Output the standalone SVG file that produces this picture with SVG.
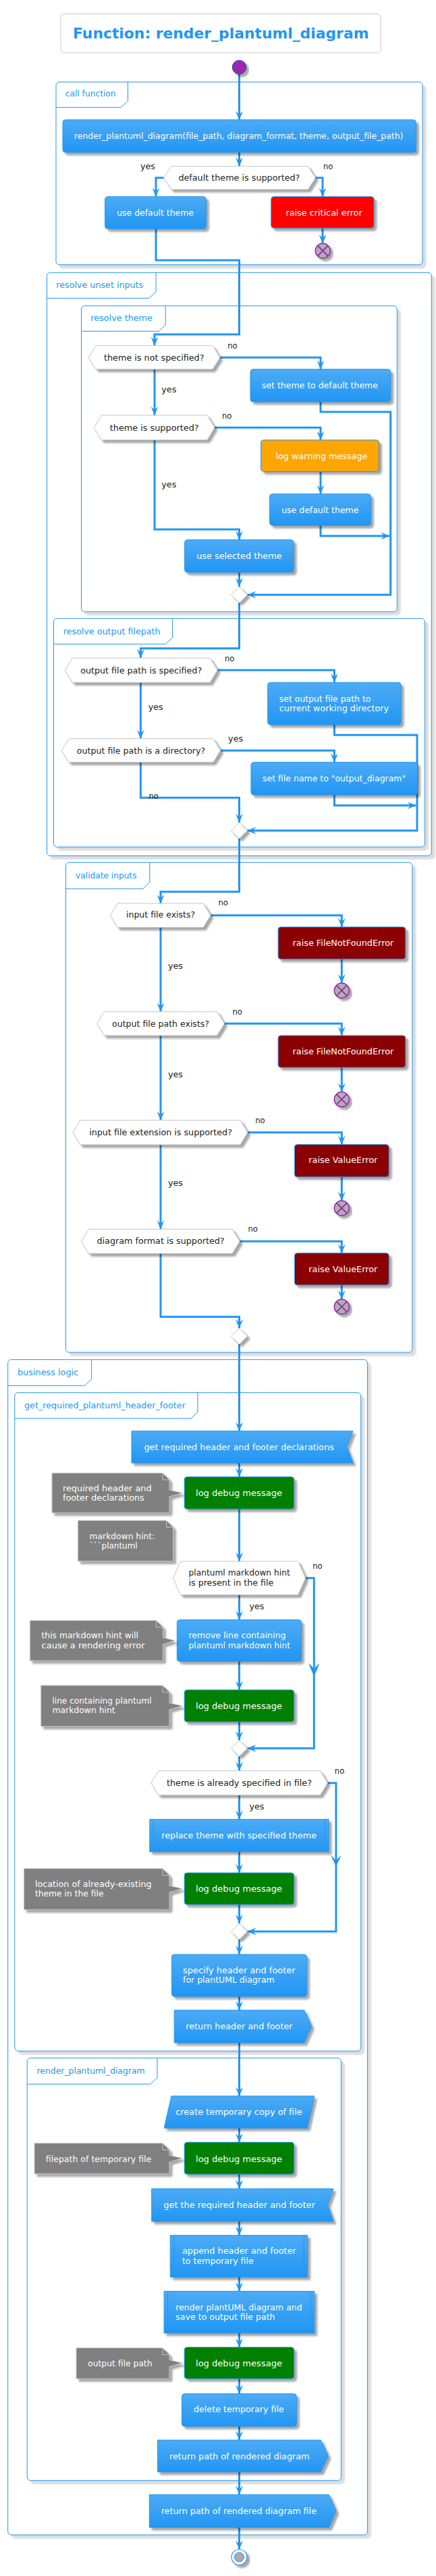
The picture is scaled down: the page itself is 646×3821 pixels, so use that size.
<svg xmlns="http://www.w3.org/2000/svg" width="646" height="3821" viewBox="0 0 646 3821">
<style>
.t{font-family:"DejaVu Sans","Liberation Sans",sans-serif;font-size:13px}
.w{fill:#ffffff}
.k{fill:#222222}
.g{fill:#2196F3}
.ln{fill:none;stroke:#2196F3;stroke-width:3;marker-end:url(#ar)}
.lnn{fill:none;stroke:#2196F3;stroke-width:3}
.grp{fill:#ffffff;stroke:#2196F3;stroke-width:1;filter:url(#gsh)}
.tab{fill:none;stroke:#2196F3;stroke-width:1}
.act{fill:url(#bg);stroke:#2196F3;stroke-width:1;filter:url(#sh)}
.sub{fill:none;stroke:#2196F3;stroke-width:1}
.dec{fill:#ffffff;stroke:#c4c4c4;stroke-width:1;filter:url(#sh)}
.note{fill:#808080;stroke:#c8c8c8;stroke-width:1;filter:url(#sh)}
.fold{fill:none;stroke:#c8c8c8;stroke-width:1}
.stop{fill:#b0b0b0;stroke:#9C27B0;stroke-width:1.5;filter:url(#sh)}
.x{stroke:#9C27B0;stroke-width:1.8}
.ah{fill:#2196F3}
</style>
<defs>
<linearGradient id="bg" x1="0" y1="0" x2="0" y2="1">
<stop offset="0" stop-color="#4DABF5"/>
<stop offset="1" stop-color="#2196F3"/>
</linearGradient>
<filter id="sh" x="-10%" y="-20%" width="130%" height="170%" color-interpolation-filters="sRGB">
<feGaussianBlur in="SourceAlpha" stdDeviation="1.5"/>
<feOffset dx="4" dy="4"/>
<feComponentTransfer><feFuncA type="linear" slope="0.35"/></feComponentTransfer>
<feMerge><feMergeNode/><feMergeNode in="SourceGraphic"/></feMerge>
</filter>
<filter id="gsh" x="-5%" y="-5%" width="115%" height="115%" color-interpolation-filters="sRGB">
<feGaussianBlur in="SourceAlpha" stdDeviation="1"/>
<feOffset dx="5" dy="5"/>
<feComponentTransfer><feFuncA type="linear" slope="0.14"/></feComponentTransfer>
<feMerge><feMergeNode/><feMergeNode in="SourceGraphic"/></feMerge>
</filter>
<marker id="ar" viewBox="0 0 13 12" refX="13" refY="6" markerWidth="13" markerHeight="12" markerUnits="userSpaceOnUse" orient="auto">
<path d="M0,0.5 L13,6 L0,11.5 L5,6 Z" fill="#2196F3"/>
</marker>
</defs>
<rect width="646" height="3821" fill="#ffffff"/>

<g id="title">
<rect x="90" y="20.7" width="474" height="57.6" rx="5" fill="#ffffff" stroke="#c8c8c8" stroke-width="1"/>
<text class="g" x="108" y="57.3" textLength="438.4" lengthAdjust="spacingAndGlyphs" style="font-family:'DejaVu Sans','Liberation Sans',sans-serif;font-size:21.5px;font-weight:bold">Function: render_plantuml_diagram</text>
</g>

<g id="grp-call-function">
<rect class="grp" x="83" y="121.7" width="543" height="271" rx="5"/>
<path class="tab" d="M83,159.3 H179.5 L189.5,149.8 V121.7"/>
<text class="t g" x="96.7" y="143.3" textLength="74.9" lengthAdjust="spacingAndGlyphs">call function</text>
</g>
<g id="grp-resolve-unset-inputs">
<rect class="grp" x="69.5" y="404.3" width="569.8" height="865" rx="5"/>
<path class="tab" d="M69.5,442.3 H221 L231,432.8 V404.3"/>
<text class="t g" x="83.3" y="427.3" textLength="128.9" lengthAdjust="spacingAndGlyphs">resolve unset inputs</text>
</g>
<g id="grp-resolve-theme">
<rect class="grp" x="120.5" y="453.7" width="467.8" height="453.6" rx="5"/>
<path class="tab" d="M120.5,491.3 H235.2 L245.2,481.8 V453.7"/>
<text class="t g" x="134.3" y="476" textLength="91.6" lengthAdjust="spacingAndGlyphs">resolve theme</text>
</g>
<g id="grp-resolve-output-filepath">
<rect class="grp" x="79.5" y="917.3" width="549.8" height="339" rx="5"/>
<path class="tab" d="M79.5,955.3 H245.6 L255.6,945.8 V917.3"/>
<text class="t g" x="93.7" y="940.7" textLength="143.9" lengthAdjust="spacingAndGlyphs">resolve output filepath</text>
</g>
<g id="grp-validate-inputs">
<rect class="grp" x="97.5" y="1279.3" width="513.4" height="726.7" rx="5"/>
<path class="tab" d="M97.5,1318.3 H211.8 L221.8,1308.8 V1279.3"/>
<text class="t g" x="112.1" y="1302.7" textLength="90.4" lengthAdjust="spacingAndGlyphs">validate inputs</text>
</g>
<g id="grp-business-logic">
<rect class="grp" x="11.7" y="2016.7" width="532.7" height="1743.3" rx="5"/>
<path class="tab" d="M11.7,2055.3 H125.6 L135.6,2045.8 V2016.7"/>
<text class="t g" x="25.9" y="2040" textLength="90.4" lengthAdjust="spacingAndGlyphs">business logic</text>
</g>
<g id="grp-get-required-header-footer">
<rect class="grp" x="21.8" y="2065.7" width="512.9" height="976.6" rx="5"/>
<path class="tab" d="M21.8,2104 H282.9 L292.9,2094.5 V2065.7"/>
<text class="t g" x="36" y="2089.3" textLength="238.9" lengthAdjust="spacingAndGlyphs">get_required_plantuml_header_footer</text>
</g>
<g id="grp-render-plantuml-diagram">
<rect class="grp" x="40.2" y="3052.7" width="465.2" height="626.6" rx="5"/>
<path class="tab" d="M40.2,3091.3 H223 L233,3081.8 V3052.7"/>
<text class="t g" x="54.4" y="3076" textLength="160.3" lengthAdjust="spacingAndGlyphs">render_plantuml_diagram</text>
</g>

<g id="connectors">
<path class="ln" d="M354.5,110 V177.7"/>
<path class="ln" d="M354.5,226 V246.7"/>
<path class="ln" d="M242.7,263.8 H231 V291.7"/>
<path class="ln" d="M467.4,263.8 H478 V291.7"/>
<path class="ln" d="M478,338.3 V361"/>
<path class="ln" d="M231,339.3 V386 H354.5 V496 H229 V512.7"/>
<path class="ln" d="M326,530.2 H475 V547.7"/>
<path class="ln" d="M229,547.7 V616"/>
<path class="ln" d="M475,596 V611 H578.7 V882.3 H366.5"/>
<path class="ln" d="M318,634.3 H475 V652.7"/>
<path class="ln" d="M475,699.3 V732.7"/>
<path class="ln" d="M475,779.3 V795 H577.2"/>
<path class="ln" d="M229,652.7 V785.3 H354.5 V800.7"/>
<path class="ln" d="M354.5,849 V870.3"/>
<path class="ln" d="M354.5,894.3 V961.7 H208.4 V976"/>
<path class="ln" d="M322.2,994.1 H495.4 V1012.3"/>
<path class="ln" d="M208.4,1012.3 V1095.7"/>
<path class="ln" d="M495.4,1075 V1090.3 H618 V1232 H366.5"/>
<path class="ln" d="M326.8,1113.2 H495.4 V1130.7"/>
<path class="ln" d="M495.4,1179 V1194.7 H616.5"/>
<path class="ln" d="M208.4,1130.7 V1183.3 H354.5 V1220"/>
<path class="ln" d="M354.5,1244 V1322.7 H238 V1340"/>
<path class="ln" d="M312.1,1357.8 H506.3 V1375"/>
<path class="ln" d="M506.3,1422.7 V1458.3"/>
<path class="ln" d="M238,1375.7 V1500.7"/>
<path class="ln" d="M332.6,1518.3 H506.3 V1536"/>
<path class="ln" d="M506.3,1583.3 V1619.7"/>
<path class="ln" d="M238,1536 V1661.7"/>
<path class="ln" d="M367,1679.8 H506.3 V1697.7"/>
<path class="ln" d="M506.3,1745.7 V1781"/>
<path class="ln" d="M238,1698 V1823.3"/>
<path class="ln" d="M355.2,1841.3 H506.3 V1858.7"/>
<path class="ln" d="M506.3,1906 V1927.3"/>
<path class="ln" d="M238,1859.3 V1953.3 H354.5 V1970"/>
<path class="ln" d="M354.5,1994 V2122.7"/>
<path class="ln" d="M354.5,2170 V2190.7"/>
<path class="ln" d="M354.5,2238.3 V2316"/>
<path class="ln" d="M452.7,2340.8 H465.3 V2593.3 H366.5"/>
<path class="ln" d="M354.5,2365.7 V2402.7"/>
<path class="ln" d="M354.5,2464.3 V2506.7"/>
<path class="ln" d="M354.5,2554 V2581.3"/>
<path class="ln" d="M354.5,2605.3 V2626.7"/>
<path class="ln" d="M485.4,2644.7 H497.9 V2865 H366.5"/>
<path class="ln" d="M354.5,2662.7 V2698.7"/>
<path class="ln" d="M354.5,2746.7 V2778"/>
<path class="ln" d="M354.5,2825 V2853"/>
<path class="ln" d="M354.5,2877 V2899"/>
<path class="ln" d="M354.5,2961.3 V2981.7"/>
<path class="ln" d="M354.5,3030 V3109"/>
<path class="ln" d="M354.5,3156.7 V3177.7"/>
<path class="ln" d="M354.5,3225 V3246.7"/>
<path class="ln" d="M354.5,3295 V3315.7"/>
<path class="ln" d="M354.5,3377.7 V3398.7"/>
<path class="ln" d="M354.5,3460.7 V3481.7"/>
<path class="ln" d="M354.5,3528.3 V3550.7"/>
<path class="ln" d="M354.5,3599 V3619.3"/>
<path class="ln" d="M354.5,3666.7 V3700.3"/>
<path class="ln" d="M354.5,3749 V3781.5"/>
<polygon class="ah" points="465.3,2487 457,2467 465.3,2475 473.6,2467"/>
<polygon class="ah" points="497.9,2768.3 489.9,2751.7 497.9,2759.5 505.9,2751.7"/>
<text class="t k" x="208" y="250.7" textLength="22" lengthAdjust="spacingAndGlyphs">yes</text>
<text class="t k" x="479" y="250.7" textLength="14.5" lengthAdjust="spacingAndGlyphs">no</text>
<text class="t k" x="337.2" y="516.7" textLength="14.5" lengthAdjust="spacingAndGlyphs">no</text>
<text class="t k" x="239.3" y="581.7" textLength="22" lengthAdjust="spacingAndGlyphs">yes</text>
<text class="t k" x="328.9" y="621" textLength="14.5" lengthAdjust="spacingAndGlyphs">no</text>
<text class="t k" x="239.3" y="723.3" textLength="22" lengthAdjust="spacingAndGlyphs">yes</text>
<text class="t k" x="333" y="980.7" textLength="14.5" lengthAdjust="spacingAndGlyphs">no</text>
<text class="t k" x="219.7" y="1053.3" textLength="22" lengthAdjust="spacingAndGlyphs">yes</text>
<text class="t k" x="338.1" y="1100" textLength="22" lengthAdjust="spacingAndGlyphs">yes</text>
<text class="t k" x="220.5" y="1185.3" textLength="14.5" lengthAdjust="spacingAndGlyphs">no</text>
<text class="t k" x="323.4" y="1343.3" textLength="14.5" lengthAdjust="spacingAndGlyphs">no</text>
<text class="t k" x="249" y="1436.7" textLength="22" lengthAdjust="spacingAndGlyphs">yes</text>
<text class="t k" x="344.4" y="1504.7" textLength="14.5" lengthAdjust="spacingAndGlyphs">no</text>
<text class="t k" x="249" y="1597.7" textLength="22" lengthAdjust="spacingAndGlyphs">yes</text>
<text class="t k" x="378.2" y="1666" textLength="14.5" lengthAdjust="spacingAndGlyphs">no</text>
<text class="t k" x="249" y="1759.3" textLength="22" lengthAdjust="spacingAndGlyphs">yes</text>
<text class="t k" x="367.4" y="1827.3" textLength="14.5" lengthAdjust="spacingAndGlyphs">no</text>
<text class="t k" x="463.2" y="2326.7" textLength="14.5" lengthAdjust="spacingAndGlyphs">no</text>
<text class="t k" x="369.5" y="2387.3" textLength="22" lengthAdjust="spacingAndGlyphs">yes</text>
<text class="t k" x="495.8" y="2631" textLength="14.5" lengthAdjust="spacingAndGlyphs">no</text>
<text class="t k" x="369.5" y="2684" textLength="22" lengthAdjust="spacingAndGlyphs">yes</text>
</g>

<g id="start">
<circle cx="354.5" cy="99.7" r="10.3" fill="#9C27B0" stroke="#2a4aa8" stroke-width="1" filter="url(#sh)"/>
</g>
<g id="a-call">
<rect class="act" x="93" y="177.7" width="523.3" height="48.3" rx="4"/>
<text class="t w" x="110" y="206" textLength="487.4" lengthAdjust="spacingAndGlyphs">render_plantuml_diagram(file_path, diagram_format, theme, output_file_path)</text>
</g>
<g id="d-default-theme">
<polygon class="dec" points="253.7,246.7 456.4,246.7 467.4,263.8 456.4,281 253.7,281 242.7,263.8"/>
<text class="t k" x="264.4" y="268.3" textLength="180" lengthAdjust="spacingAndGlyphs">default theme is supported?</text>
</g>
<g id="a-use-default-1">
<rect class="act" x="155.6" y="291.7" width="149.8" height="47.6" rx="4"/>
<text class="t w" x="173.2" y="320" textLength="113.8" lengthAdjust="spacingAndGlyphs">use default theme</text>
</g>
<g id="a-raise-critical">
<rect x="401.7" y="291.7" width="152.3" height="46.6" rx="4" fill="#FF0000" stroke="#2196F3" stroke-width="1" filter="url(#sh)"/>
<text class="t w" x="423.4" y="320" textLength="113.4" lengthAdjust="spacingAndGlyphs">raise critical error</text>
</g>
<g id="stop-1">
<circle class="stop" cx="478.3" cy="372" r="11"/>
<path class="x" d="M470.8,364.5 L485.8,379.5 M485.8,364.5 L470.8,379.5"/>
</g>
<g id="d-theme-not-specified">
<polygon class="dec" points="142,512.7 315,512.7 326,530.2 315,547.7 142,547.7 131,530.2"/>
<text class="t k" x="154" y="535" textLength="148.5" lengthAdjust="spacingAndGlyphs">theme is not specified?</text>
</g>
<g id="a-set-theme-default">
<rect class="act" x="371" y="547.7" width="207.7" height="48.3" rx="4"/>
<text class="t w" x="387.9" y="576" textLength="172" lengthAdjust="spacingAndGlyphs">set theme to default theme</text>
</g>
<g id="d-theme-supported">
<polygon class="dec" points="150.3,616 307,616 318,634.3 307,652.7 150.3,652.7 139.3,634.3"/>
<text class="t k" x="162.8" y="639.3" textLength="131.8" lengthAdjust="spacingAndGlyphs">theme is supported?</text>
</g>
<g id="a-log-warning">
<rect x="386.6" y="652.7" width="174.9" height="46.6" rx="4" fill="#FFA500" stroke="#2196F3" stroke-width="1" filter="url(#sh)"/>
<text class="t w" x="408.4" y="680.7" textLength="136" lengthAdjust="spacingAndGlyphs">log warning message</text>
</g>
<g id="a-use-default-2">
<rect class="act" x="399.6" y="732.7" width="149.8" height="46.6" rx="4"/>
<text class="t w" x="417.2" y="760.7" textLength="114.2" lengthAdjust="spacingAndGlyphs">use default theme</text>
</g>
<g id="a-use-selected">
<rect class="act" x="273.6" y="800.7" width="161.5" height="48.3" rx="4"/>
<text class="t w" x="291.2" y="829.3" textLength="126.4" lengthAdjust="spacingAndGlyphs">use selected theme</text>
</g>
<g id="merge-1">
<polygon class="dec" points="354.5,870.3 366.5,882.3 354.5,894.3 342.5,882.3"/>
</g>
<g id="d-output-specified">
<polygon class="dec" points="107.2,976 311.2,976 322.2,994.1 311.2,1012.3 107.2,1012.3 96.2,994.1"/>
<text class="t k" x="119.2" y="999" textLength="180" lengthAdjust="spacingAndGlyphs">output file path is specified?</text>
</g>
<g id="a-set-output-cwd">
<rect class="act" x="396.7" y="1012.3" width="197.4" height="62.7" rx="4"/>
<text class="t w" x="413.8" y="1040.7" textLength="135.6" lengthAdjust="spacingAndGlyphs">set output file path to</text>
<text class="t w" x="413.8" y="1055" textLength="162.3" lengthAdjust="spacingAndGlyphs">current working directory</text>
</g>
<g id="d-output-directory">
<polygon class="dec" points="102.2,1095.7 315.8,1095.7 326.8,1113.2 315.8,1130.7 102.2,1130.7 91.2,1113.2"/>
<text class="t k" x="113.8" y="1118" textLength="190.4" lengthAdjust="spacingAndGlyphs">output file path is a directory?</text>
</g>
<g id="a-set-file-name">
<rect class="act" x="372" y="1130.7" width="246.4" height="48.3" rx="4"/>
<text class="t w" x="389.1" y="1159" textLength="212.1" lengthAdjust="spacingAndGlyphs">set file name to "output_diagram"</text>
</g>
<g id="merge-2">
<polygon class="dec" points="354.5,1220 366.5,1232 354.5,1244 342.5,1232"/>
</g>
<g id="d-input-exists">
<polygon class="dec" points="174.2,1340 301.1,1340 312.1,1357.8 301.1,1375.7 174.2,1375.7 163.2,1357.8"/>
<text class="t k" x="187" y="1361" textLength="102.1" lengthAdjust="spacingAndGlyphs">input file exists?</text>
</g>
<g id="a-raise-fnf-1">
<rect x="412.1" y="1375" width="188.7" height="47.7" rx="4" fill="#8B0000" stroke="#2196F3" stroke-width="1" filter="url(#sh)"/>
<text class="t w" x="433.5" y="1403.3" textLength="149.8" lengthAdjust="spacingAndGlyphs">raise FileNotFoundError</text>
</g>
<g id="stop-2">
<circle class="stop" cx="506.3" cy="1469.3" r="11"/>
<path class="x" d="M498.8,1461.8 L513.8,1476.8 M513.8,1461.8 L498.8,1476.8"/>
</g>
<g id="d-output-exists">
<polygon class="dec" points="154.5,1500.7 321.6,1500.7 332.6,1518.3 321.6,1536 154.5,1536 143.5,1518.3"/>
<text class="t k" x="166.1" y="1522.7" textLength="143.9" lengthAdjust="spacingAndGlyphs">output file path exists?</text>
</g>
<g id="a-raise-fnf-2">
<rect x="412.1" y="1536" width="188.7" height="47.3" rx="4" fill="#8B0000" stroke="#2196F3" stroke-width="1" filter="url(#sh)"/>
<text class="t w" x="433.5" y="1564" textLength="149.8" lengthAdjust="spacingAndGlyphs">raise FileNotFoundError</text>
</g>
<g id="stop-3">
<circle class="stop" cx="506.3" cy="1630.7" r="11"/>
<path class="x" d="M498.8,1623.2 L513.8,1638.2 M513.8,1623.2 L498.8,1638.2"/>
</g>
<g id="d-extension-supported">
<polygon class="dec" points="119,1661.7 356,1661.7 367,1679.8 356,1698 119,1698 108,1679.8"/>
<text class="t k" x="132.2" y="1684" textLength="211.7" lengthAdjust="spacingAndGlyphs">input file extension is supported?</text>
</g>
<g id="a-raise-value-1">
<rect x="436.4" y="1697.7" width="139.8" height="48" rx="4" fill="#8B0000" stroke="#2196F3" stroke-width="1" filter="url(#sh)"/>
<text class="t w" x="457.3" y="1725.3" textLength="102.1" lengthAdjust="spacingAndGlyphs">raise ValueError</text>
</g>
<g id="stop-4">
<circle class="stop" cx="506.3" cy="1792" r="11"/>
<path class="x" d="M498.8,1784.5 L513.8,1799.5 M513.8,1784.5 L498.8,1799.5"/>
</g>
<g id="d-format-supported">
<polygon class="dec" points="131.5,1823.3 344.2,1823.3 355.2,1841.3 344.2,1859.3 131.5,1859.3 120.5,1841.3"/>
<text class="t k" x="143.5" y="1845" textLength="189.1" lengthAdjust="spacingAndGlyphs">diagram format is supported?</text>
</g>
<g id="a-raise-value-2">
<rect x="436.4" y="1858.7" width="139.8" height="47.3" rx="4" fill="#8B0000" stroke="#2196F3" stroke-width="1" filter="url(#sh)"/>
<text class="t w" x="457.3" y="1886.7" textLength="102.1" lengthAdjust="spacingAndGlyphs">raise ValueError</text>
</g>
<g id="stop-5">
<circle class="stop" cx="506.3" cy="1938.3" r="11"/>
<path class="x" d="M498.8,1930.8 L513.8,1945.8 M513.8,1930.8 L498.8,1945.8"/>
</g>
<g id="merge-3">
<polygon class="dec" points="354.5,1970 366.5,1982 354.5,1994 342.5,1982"/>
</g>
<g id="a-get-required-declarations">
<path class="act" d="M195,2122.7 H523 L513.8,2146.3 L523,2170 H195 Z"/>
<text class="t w" x="213.4" y="2150.7" textLength="281.6" lengthAdjust="spacingAndGlyphs">get required header and footer declarations</text>
</g>
<g id="a-log-debug-1">
<rect x="273.2" y="2190.7" width="162.4" height="47.6" rx="4" fill="#008000" stroke="#2196F3" stroke-width="1" filter="url(#sh)"/>
<text class="t w" x="290" y="2219" textLength="128" lengthAdjust="spacingAndGlyphs">log debug message</text>
</g>
<g id="note-1">
<path class="note" d="M77,2185 H241 L251,2195 V2210 L270,2214.5 L251,2220 V2244 H77 Z"/>
<path class="fold" d="M241,2185 V2195 H251"/>
<text class="t w" x="92.9" y="2211.7" textLength="131.8" lengthAdjust="spacingAndGlyphs">required header and</text>
<text class="t w" x="92.9" y="2226" textLength="120.9" lengthAdjust="spacingAndGlyphs">footer declarations</text>
</g>
<g id="note-2">
<path class="note" d="M115.5,2255.3 H246.5 L256.5,2265.3 V2315.7 H115.5 Z"/>
<path class="fold" d="M246.5,2255.3 V2265.3 H256.5"/>
<text class="t w" x="132.6" y="2282.7" textLength="96.7" lengthAdjust="spacingAndGlyphs">markdown hint:</text>
<text class="t w" x="132.6" y="2296.7" textLength="71.1" lengthAdjust="spacingAndGlyphs">```plantuml</text>
</g>
<g id="d-hint-present">
<polygon class="dec" points="267.5,2316 441.7,2316 452.7,2340.8 441.7,2365.7 267.5,2365.7 256.5,2340.8"/>
<text class="t k" x="279.5" y="2337.3" textLength="150.2" lengthAdjust="spacingAndGlyphs">plantuml markdown hint</text>
<text class="t k" x="279.5" y="2352" textLength="125.9" lengthAdjust="spacingAndGlyphs">is present in the file</text>
</g>
<g id="a-remove-line">
<rect class="act" x="262.3" y="2402.7" width="184.1" height="61.6" rx="4"/>
<text class="t w" x="279.5" y="2430" textLength="143.9" lengthAdjust="spacingAndGlyphs">remove line containing</text>
<text class="t w" x="279.5" y="2444.7" textLength="150.6" lengthAdjust="spacingAndGlyphs">plantuml markdown hint</text>
</g>
<g id="note-3">
<path class="note" d="M44.4,2403.7 H231.4 L241.4,2413.7 V2429 L259.3,2433.5 L241.4,2439 V2463.3 H44.4 Z"/>
<path class="fold" d="M231.4,2403.7 V2413.7 H241.4"/>
<text class="t w" x="61.5" y="2430" textLength="143.5" lengthAdjust="spacingAndGlyphs">this markdown hint will</text>
<text class="t w" x="61.5" y="2445" textLength="153.1" lengthAdjust="spacingAndGlyphs">cause a rendering error</text>
</g>
<g id="a-log-debug-2">
<rect x="273.2" y="2506.7" width="162.4" height="47.3" rx="4" fill="#008000" stroke="#2196F3" stroke-width="1" filter="url(#sh)"/>
<text class="t w" x="290" y="2534.7" textLength="128" lengthAdjust="spacingAndGlyphs">log debug message</text>
</g>
<g id="note-4">
<path class="note" d="M60.7,2500 H241 L251,2510 V2526 L270,2530.3 L251,2536 V2560.7 H60.7 Z"/>
<path class="fold" d="M241,2500 V2510 H251"/>
<text class="t w" x="77.4" y="2526.7" textLength="147.3" lengthAdjust="spacingAndGlyphs">line containing plantuml</text>
<text class="t w" x="77.4" y="2541" textLength="93.3" lengthAdjust="spacingAndGlyphs">markdown hint</text>
</g>
<g id="merge-4">
<polygon class="dec" points="354.5,2581.3 366.5,2593.3 354.5,2605.3 342.5,2593.3"/>
</g>
<g id="d-theme-already">
<polygon class="dec" points="234.8,2626.7 474.4,2626.7 485.4,2644.7 474.4,2662.7 234.8,2662.7 223.8,2644.7"/>
<text class="t k" x="246.9" y="2649.3" textLength="215.1" lengthAdjust="spacingAndGlyphs">theme is already specified in file?</text>
</g>
<g id="a-replace-theme">
<rect class="act" x="221.8" y="2698.7" width="265.2" height="48"/>
<path class="sub" d="M227.3,2698.7 V2746.7 M481.5,2698.7 V2746.7"/>
<text class="t w" x="239.3" y="2726.7" textLength="229.7" lengthAdjust="spacingAndGlyphs">replace theme with specified theme</text>
</g>
<g id="a-log-debug-3">
<rect x="273.2" y="2778" width="162.4" height="47" rx="4" fill="#008000" stroke="#2196F3" stroke-width="1" filter="url(#sh)"/>
<text class="t w" x="290" y="2806" textLength="128" lengthAdjust="spacingAndGlyphs">log debug message</text>
</g>
<g id="note-5">
<path class="note" d="M35.6,2771.7 H241 L251,2781.7 V2797 L270,2801.5 L251,2807 V2832.7 H35.6 Z"/>
<path class="fold" d="M241,2771.7 V2781.7 H251"/>
<text class="t w" x="51.9" y="2799" textLength="172.8" lengthAdjust="spacingAndGlyphs">location of already-existing</text>
<text class="t w" x="51.9" y="2813.3" textLength="101.7" lengthAdjust="spacingAndGlyphs">theme in the file</text>
</g>
<g id="merge-5">
<polygon class="dec" points="354.5,2853 366.5,2865 354.5,2877 342.5,2865"/>
</g>
<g id="a-specify-header-footer">
<rect class="act" x="254.4" y="2899" width="200" height="62.3" rx="4"/>
<text class="t w" x="271.1" y="2926.7" textLength="166.5" lengthAdjust="spacingAndGlyphs">specify header and footer</text>
<text class="t w" x="271.1" y="2941.3" textLength="135.6" lengthAdjust="spacingAndGlyphs">for plantUML diagram</text>
</g>
<g id="a-return-header-footer">
<path class="act" d="M258.2,2981.7 H450.6 L461.5,3005.8 L450.6,3030 H258.2 Z"/>
<text class="t w" x="275.3" y="3010" textLength="158.2" lengthAdjust="spacingAndGlyphs">return header and footer</text>
</g>
<g id="a-create-temp-copy">
<path class="act" d="M254,3109 H465.7 L455.2,3156.7 H243.1 Z"/>
<text class="t w" x="260.3" y="3137.3" textLength="187.4" lengthAdjust="spacingAndGlyphs">create temporary copy of file</text>
</g>
<g id="a-log-debug-4">
<rect x="273.2" y="3177.7" width="162.4" height="47.3" rx="4" fill="#008000" stroke="#2196F3" stroke-width="1" filter="url(#sh)"/>
<text class="t w" x="290" y="3206.7" textLength="128" lengthAdjust="spacingAndGlyphs">log debug message</text>
</g>
<g id="note-6">
<path class="note" d="M51,3179 H241 L251,3189 V3197 L270,3201.3 L251,3207 V3224.3 H51 Z"/>
<path class="fold" d="M241,3179 V3189 H251"/>
<text class="t w" x="67.8" y="3206.7" textLength="156.5" lengthAdjust="spacingAndGlyphs">filepath of temporary file</text>
</g>
<g id="a-get-the-required">
<path class="act" d="M224.7,3246.7 H494.1 L485.4,3270.8 L494.1,3295 H224.7 Z"/>
<text class="t w" x="242.3" y="3275.3" textLength="224.7" lengthAdjust="spacingAndGlyphs">get the required header and footer</text>
</g>
<g id="a-append-header-footer">
<rect class="act" x="252.3" y="3315.7" width="203.3" height="62"/>
<path class="sub" d="M257.8,3315.7 V3377.7 M450.1,3315.7 V3377.7"/>
<text class="t w" x="269.9" y="3343.3" textLength="169" lengthAdjust="spacingAndGlyphs">append header and footer</text>
<text class="t w" x="269.9" y="3358" textLength="105.9" lengthAdjust="spacingAndGlyphs">to temporary file</text>
</g>
<g id="a-render-save">
<rect class="act" x="243.1" y="3398.7" width="222.6" height="62"/>
<path class="sub" d="M248.6,3398.7 V3460.7 M460.2,3398.7 V3460.7"/>
<text class="t w" x="260.3" y="3426.7" textLength="187.4" lengthAdjust="spacingAndGlyphs">render plantUML diagram and</text>
<text class="t w" x="260.3" y="3441" textLength="147.3" lengthAdjust="spacingAndGlyphs">save to output file path</text>
</g>
<g id="a-log-debug-5">
<rect x="273.2" y="3481.7" width="162.4" height="46.6" rx="4" fill="#008000" stroke="#2196F3" stroke-width="1" filter="url(#sh)"/>
<text class="t w" x="290" y="3510" textLength="128" lengthAdjust="spacingAndGlyphs">log debug message</text>
</g>
<g id="note-7">
<path class="note" d="M113,3482.7 H241 L251,3492.7 V3500.5 L270,3505 L251,3510.5 V3528.3 H113 Z"/>
<path class="fold" d="M241,3482.7 V3492.7 H251"/>
<text class="t w" x="130.1" y="3510" textLength="95.4" lengthAdjust="spacingAndGlyphs">output file path</text>
</g>
<g id="a-delete-temp">
<rect class="act" x="269.5" y="3550.7" width="169.8" height="48.3" rx="4"/>
<text class="t w" x="287" y="3578.3" textLength="133.9" lengthAdjust="spacingAndGlyphs">delete temporary file</text>
</g>
<g id="a-return-path-diagram">
<path class="act" d="M233.5,3619.3 H475.3 L486.2,3643 L475.3,3666.7 H233.5 Z"/>
<text class="t w" x="251" y="3647.7" textLength="207.5" lengthAdjust="spacingAndGlyphs">return path of rendered diagram</text>
</g>
<g id="a-return-path-file">
<path class="act" d="M221.3,3700.3 H487.4 L497.9,3724.7 L487.4,3749 H221.3 Z"/>
<text class="t w" x="238.9" y="3728.7" textLength="230.1" lengthAdjust="spacingAndGlyphs">return path of rendered diagram file</text>
</g>
<g id="end">
<circle cx="354.5" cy="3793" r="11.5" fill="#ffffff" stroke="#2196F3" stroke-width="1.2" filter="url(#sh)"/>
<circle cx="354.5" cy="3793" r="7" fill="#aaaaaa" stroke="#2196F3" stroke-width="1"/>
</g>
</svg>
